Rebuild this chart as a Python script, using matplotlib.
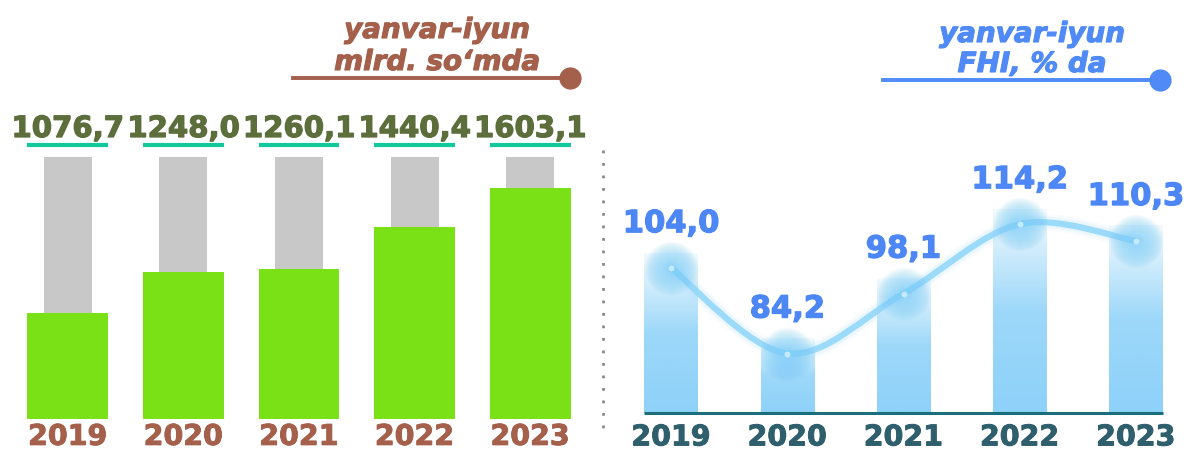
import numpy as np
import matplotlib.pyplot as plt
import matplotlib.patheffects as pe
from matplotlib.colors import LinearSegmentedColormap
from matplotlib.lines import Line2D
from matplotlib.path import Path
from matplotlib.patches import PathPatch

# ma'lumotlar
years = ['2019', '2020', '2021', '2022', '2023']
mlrd_vals = [1076.7, 1248.0, 1260.1, 1440.4, 1603.1]
mlrd_labels = ['1076,7', '1248,0', '1260,1', '1440,4', '1603,1']
fhi_vals = [104.0, 84.2, 98.1, 114.2, 110.3]
fhi_labels = ['104,0', '84,2', '98,1', '114,2', '110,3']

FONT = 'DejaVu Sans'
W, H = 1190, 450


def qalin(color, w=0.9):
    # matnni biroz qalinroq ko'rsatish
    return [pe.withStroke(linewidth=w, foreground=color)]


fig = plt.figure(figsize=(W / 100, H / 100), dpi=100)

# ---------------- chap panel ----------------
ax1 = fig.add_axes([10 / W, (H - 418.7) / H, 578 / W, 261.7 / H])
y1lo, y1hi = 630, 1734
x = np.arange(len(years))
ax1.bar(x, y1hi - y1lo, bottom=y1lo, width=0.415, color='#c8c8c8', zorder=1)
ax1.bar(x, np.array(mlrd_vals) - y1lo, bottom=y1lo, width=0.70, color='#7be117', zorder=2)
ax1.set_xlim(-0.5, len(years) - 0.5)
ax1.set_ylim(y1lo, y1hi)

tr1 = ax1.get_xaxis_transform()
for i, lab in enumerate(mlrd_labels):
    ax1.plot([i - 0.35, i + 0.35], [1.046, 1.046], transform=tr1, color='#12c99b',
             lw=3, solid_capstyle='butt', clip_on=False)
    ax1.annotate(lab, xy=(i, 1), xycoords=tr1, xytext=(0, 14.4), textcoords='offset points',
                 ha='center', va='baseline', fontsize=21, fontweight='bold',
                 color='#5c6e3b', family=FONT, annotation_clip=False,
                 path_effects=qalin('#5c6e3b'))

ax1.set_xticks(x)
ax1.set_xticklabels(years, fontsize=20.5, fontweight='bold', color='#a5604c', family=FONT,
                    path_effects=qalin('#a5604c', 0.7))
ax1.tick_params(length=0, pad=3)
ax1.set_yticks([])
for s in ax1.spines.values():
    s.set_visible(False)

# ---------------- o'ng panel ----------------
ax2 = fig.add_axes([613 / W, (H - 413) / H, 581 / W, 263 / H])
y2lo, y2hi = 70.4, 131.4
bw = 0.46
cmap = LinearSegmentedColormap.from_list('bar', [(0, '#8ed1f9'), (0.5, '#9dd8f9'), (1, '#f2fafe')])
grad = np.linspace(0, 1, 256).reshape(-1, 1)
for i, v in enumerate(fhi_vals):
    ax2.imshow(grad, extent=(i - bw / 2, i + bw / 2, y2lo, v + 3.5), origin='lower',
               aspect='auto', cmap=cmap, zorder=1)

# silliq chiziq (Catmull-Rom -> Bezier)
pts = np.column_stack([x, fhi_vals]).astype(float)
ext = np.vstack([pts[0], pts, pts[-1]])
verts = [tuple(pts[0])]
codes = [Path.MOVETO]
for k in range(len(pts) - 1):
    p0, p1, p2, p3 = ext[k], ext[k + 1], ext[k + 2], ext[k + 3]
    c1 = p1 + (p2 - p0) / 6
    c2 = p2 - (p3 - p1) / 6
    verts += [tuple(c1), tuple(c2), tuple(p2)]
    codes += [Path.CURVE4] * 3
path = Path(verts, codes)
for lw, a in [(12, 0.08), (8.5, 0.15)]:
    ax2.add_patch(PathPatch(path, fc='none', ec='#a6defb', lw=lw, alpha=a, zorder=3,
                            capstyle='round'))
ax2.add_patch(PathPatch(path, fc='none', ec='#8fd5fa', lw=4.5, alpha=0.85, zorder=4,
                        capstyle='round'))

# nuqtalar atrofida yorug'lik
for s in np.linspace(1500, 40, 20):
    ax2.scatter(x, fhi_vals, s=s, color='#78cff8', alpha=0.045, lw=0, zorder=5)
ax2.scatter(x, fhi_vals, s=18, color='#d6f2fe', alpha=0.8, lw=0, zorder=6)

ax2.plot([-bw / 2, len(years) - 1 + bw / 2], [y2lo, y2lo], color='#1b6f7c', lw=2.2,
         zorder=7, clip_on=False, solid_capstyle='butt')

for i, (v, lab) in enumerate(zip(fhi_vals, fhi_labels)):
    ax2.annotate(lab, xy=(i, v), xytext=(0, 32), textcoords='offset points',
                 ha='center', va='center', fontsize=22, fontweight='bold',
                 color='#4d87f5', family=FONT, annotation_clip=False, zorder=8,
                 path_effects=qalin('#4d87f5'))

ax2.set_xlim(-0.5, len(years) - 0.5)
ax2.set_ylim(y2lo, y2hi)
ax2.set_xticks(x)
ax2.set_xticklabels(years, fontsize=20.5, fontweight='bold', color='#2f5f6d', family=FONT,
                    path_effects=qalin('#2f5f6d', 0.7))
ax2.tick_params(length=0, pad=7.5)
ax2.set_yticks([])
for s in ax2.spines.values():
    s.set_visible(False)

# ajratuvchi nuqtali chiziq
fig.add_artist(Line2D([603 / W] * 2, [1 - 150 / H, 1 - 428 / H], ls=(0, (1, 3.5)),
                      color='#8a8a8a', lw=2))

# sarlavhalar
def sarlavha(cx, line_x0, line_x1, ly, l1, l2, b1, b2, color):
    for txt, b in [(l1, b1), (l2, b2)]:
        fig.text(cx / W, 1 - b / H, txt, ha='center', va='baseline', fontsize=20,
                 fontweight='bold', style='italic', color=color, family=FONT,
                 path_effects=qalin(color, 0.8))
    fig.add_artist(Line2D([line_x0 / W, line_x1 / W], [1 - ly / H] * 2, color=color, lw=2.8))
    fig.add_artist(Line2D([line_x1 / W], [1 - ly / H], marker='o', ms=15, color=color, lw=0))

sarlavha(437, 293, 570, 78, 'yanvar-iyun', 'mlrd. so‘mda', 38, 70, '#a5604c')
sarlavha(1032, 883, 1160, 80, 'yanvar-iyun', 'FHI, % da', 42, 72, '#4f8af6')

fig.savefig('out.png', dpi=100)
